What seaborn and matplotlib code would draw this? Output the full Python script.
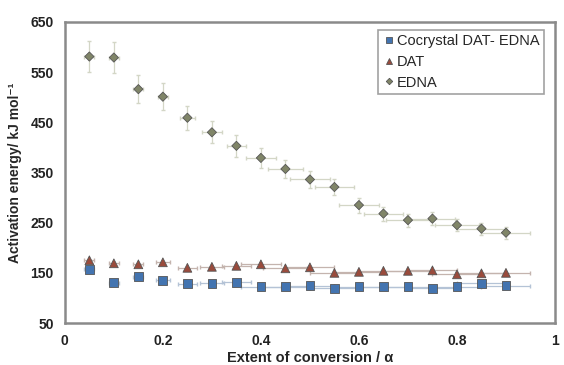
import matplotlib
matplotlib.use("Agg")
import matplotlib.pyplot as plt
import seaborn as sns
import pandas as pd
import numpy as np

alpha = [0.05, 0.10, 0.15, 0.20, 0.25, 0.30, 0.35, 0.40, 0.45, 0.50,
         0.55, 0.60, 0.65, 0.70, 0.75, 0.80, 0.85, 0.90]
cocrystal = [157, 130, 142, 135, 128, 129, 131, 122, 122, 124,
             119, 122, 122, 122, 119, 122, 129, 124]
dat = [175, 169, 167, 171, 160, 162, 164, 167, 159, 161,
       150, 152, 154, 154, 155, 147, 149, 150]
edna = [581, 579, 516, 501, 459, 430, 403, 379, 357, 336,
        321, 285, 268, 255, 258, 245, 238, 230]
edna_yerr = [30, 30, 28, 27, 24, 22, 22, 20, 18, 17,
             16, 15, 14, 13, 13, 12, 12, 12]
edna_xerr = [0.01, 0.01, 0.01, 0.01, 0.015, 0.02, 0.02, 0.03, 0.035, 0.04,
             0.04, 0.04, 0.04, 0.045, 0.045, 0.045, 0.05, 0.05]
dat_xerr = [0.01, 0.01, 0.01, 0.015, 0.02, 0.025, 0.03, 0.04, 0.045, 0.05,
            0.05, 0.05, 0.05, 0.05, 0.05, 0.05, 0.05, 0.05]
co_xerr = [0.01, 0.01, 0.01, 0.015, 0.02, 0.025, 0.03, 0.04, 0.045, 0.05,
           0.05, 0.05, 0.05, 0.05, 0.05, 0.05, 0.05, 0.05]

names = ["Cocrystal DAT- EDNA", "DAT", "EDNA"]
df = pd.DataFrame({
    "alpha": alpha * 3,
    "Ea": cocrystal + dat + edna,
    "series": [names[0]] * len(alpha) + [names[1]] * len(alpha) + [names[2]] * len(alpha),
})

sns.set_style("white")
plt.rcParams["font.family"] = ["Liberation Sans", "DejaVu Sans"]

fig = plt.figure(figsize=(5.64, 3.65), dpi=100)
ax = fig.add_axes([0.115, 0.115, 0.869, 0.825])

c_co = "#4374B0"
c_dat = "#9A4B3C"
c_edna = "#808568"

# error bars
ax.errorbar(alpha, edna, yerr=edna_yerr, xerr=edna_xerr, fmt="none",
            ecolor="#D3D6C6", elinewidth=0.9, capsize=1.2, zorder=1)
ax.errorbar(alpha, dat, xerr=dat_xerr, fmt="none",
            ecolor="#C4B4AE", elinewidth=0.9, capsize=1.2, zorder=1)
ax.errorbar(alpha, cocrystal, xerr=co_xerr, fmt="none",
            ecolor="#B4C3D6", elinewidth=0.9, capsize=1.2, zorder=1)

sns.scatterplot(data=df, x="alpha", y="Ea", hue="series", style="series",
                size="series",
                hue_order=names, style_order=names,
                sizes={names[0]: 40, names[1]: 40, names[2]: 22},
                palette={names[0]: c_co, names[1]: c_dat, names[2]: c_edna},
                markers={names[0]: "s", names[1]: "^", names[2]: "D"},
                edgecolor="#555555", linewidth=0.6, ax=ax, zorder=3)

ax.set_xlim(0, 1)
ax.set_ylim(50, 650)
ax.set_xticks([0, 0.2, 0.4, 0.6, 0.8, 1])
ax.set_xticklabels(["0", "0.2", "0.4", "0.6", "0.8", "1"])
ax.set_yticks([50, 150, 250, 350, 450, 550, 650])
ax.tick_params(axis="both", labelsize=10, length=0, pad=8)
for lab in ax.get_xticklabels() + ax.get_yticklabels():
    lab.set_fontweight("bold")
    lab.set_color("#222222")

ax.set_xlabel("Extent of conversion / α", fontsize=10.5, fontweight="bold", labelpad=2)
ax.set_ylabel("Activation energy/ kJ mol⁻¹", fontsize=10, fontweight="bold", labelpad=6)

for sp in ax.spines.values():
    sp.set_color("#8A8A8A")
    sp.set_linewidth(1.8)

leg = ax.legend(loc="upper right", bbox_to_anchor=(0.977, 0.973), fontsize=10.5,
                frameon=True, fancybox=False, borderpad=0.3, labelspacing=0.45,
                handletextpad=0.05, handlelength=0.9, markerscale=0.7,
                borderaxespad=0)
leg.get_frame().set_edgecolor("#8A8A8A")
leg.get_frame().set_linewidth(1.2)

fig.savefig("out.png", dpi=100)
